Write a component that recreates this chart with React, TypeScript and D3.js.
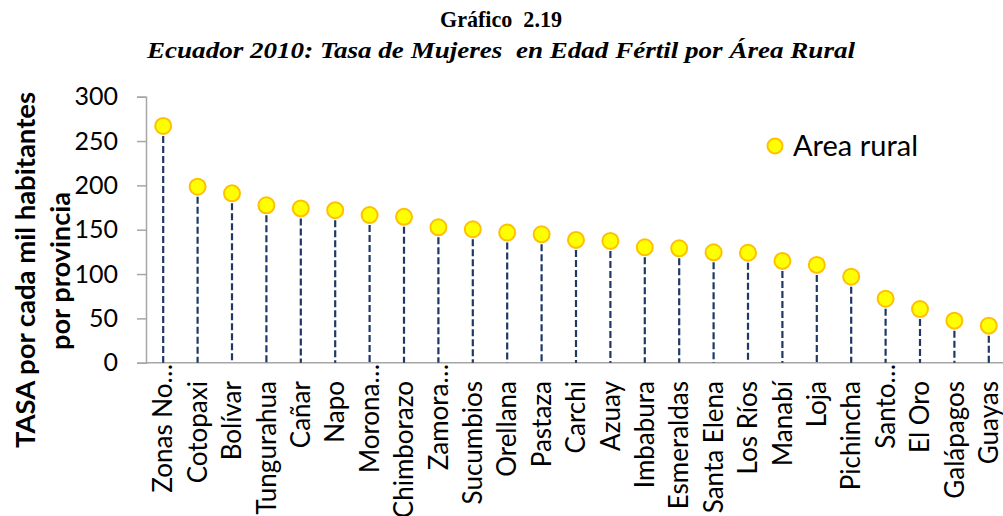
import * as d3 from "d3";
import { useRef, useEffect } from "react";

const provincias = [
  "Zonas No…", "Cotopaxi", "Bolívar", "Tungurahua", "Cañar", "Napo", "Morona…",
  "Chimborazo", "Zamora…", "Sucumbios", "Orellana", "Pastaza", "Carchi", "Azuay",
  "Imbabura", "Esmeraldas", "Santa Elena", "Los Ríos", "Manabí", "Loja",
  "Pichincha", "Santo…", "El Oro", "Galápagos", "Guayas",
];
const tasaRural = [
  267, 198.5, 191, 177.5, 174, 172, 166.5, 164.5, 152.7, 150.5, 146.8, 144.8,
  138.5, 137.3, 130.2, 129, 124.5, 124, 114.8, 110.3, 97, 72.2, 60.5, 47.4, 41.8,
];
const yTicks = [0, 50, 100, 150, 200, 250, 300];

function App() {
  const svgRef = useRef(null);

  useEffect(() => {
    const WIDTH = 1003;
    const HEIGHT = 516;
    const LABEL_FONT = "Lato, 'Open Sans', sans-serif";
    const SERIF = "'Liberation Serif', 'Times New Roman', Tinos, 'Nimbus Roman', FreeSerif, serif";

    const svg = d3.select(svgRef.current);
    svg.selectAll("*").remove();
    svg.attr("width", WIDTH).attr("height", HEIGHT);

    const x = d3.scaleBand().domain(provincias).range([146, 146 + 34.4 * provincias.length]).padding(0);
    const y = d3.scaleLinear().domain([0, 300]).range([362.7, 96.7]);

    // titulo
    svg.append("text")
      .attr("x", 501).attr("y", 27)
      .attr("text-anchor", "middle")
      .attr("font-family", SERIF)
      .attr("font-weight", "bold")
      .attr("font-size", 24)
      .style("white-space", "pre")
      .attr("textLength", 122).attr("lengthAdjust", "spacingAndGlyphs")
      .text("Gráfico  2.19");

    svg.append("text")
      .attr("x", 501).attr("y", 58)
      .attr("text-anchor", "middle")
      .attr("font-family", SERIF)
      .attr("font-weight", "bold")
      .attr("font-style", "italic")
      .attr("font-size", 24)
      .style("white-space", "pre")
      .attr("textLength", 708).attr("lengthAdjust", "spacingAndGlyphs")
      .text("Ecuador 2010: Tasa de Mujeres  en Edad Fértil por Área Rural");

    // eje y
    const yAxis = svg.append("g").attr("transform", "translate(146,0)")
      .call(d3.axisLeft(y).tickValues(yTicks).tickSize(9).tickPadding(19));
    yAxis.select(".domain").attr("stroke", "#a6a6a6").attr("stroke-width", 1.5);
    yAxis.selectAll(".tick line").attr("stroke", "#a6a6a6").attr("stroke-width", 1.5);
    yAxis.selectAll(".tick text")
      .attr("font-family", LABEL_FONT)
      .attr("font-size", 25)
      .attr("fill", "#000");

    // titulo eje y
    const yTitle = svg.append("g")
      .attr("font-family", LABEL_FONT)
      .attr("font-weight", "bold")
      .attr("font-size", 26)
      .attr("text-anchor", "middle");
    yTitle.append("text")
      .attr("transform", "translate(35,270) rotate(-90)")
      .attr("textLength", 356).attr("lengthAdjust", "spacingAndGlyphs")
      .text("TASA por cada mil habitantes");
    yTitle.append("text")
      .attr("transform", "translate(70,271) rotate(-90)")
      .attr("textLength", 158).attr("lengthAdjust", "spacingAndGlyphs")
      .text("por provincia");

    // eje x
    svg.append("line")
      .attr("x1", 146).attr("x2", WIDTH)
      .attr("y1", y(0)).attr("y2", y(0))
      .attr("stroke", "#a6a6a6").attr("stroke-width", 1.5);

    const data = provincias.map((p, i) => ({ provincia: p, tasa: tasaRural[i] }));

    svg.append("g").selectAll("line")
      .data(data)
      .join("line")
      .attr("x1", d => x(d.provincia) + x.bandwidth() / 2)
      .attr("x2", d => x(d.provincia) + x.bandwidth() / 2)
      .attr("y1", d => y(d.tasa))
      .attr("y2", y(0))
      .attr("stroke", "#1f3864")
      .attr("stroke-width", 2.2)
      .attr("stroke-dasharray", "7,3");

    svg.append("g").selectAll("circle")
      .data(data)
      .join("circle")
      .attr("cx", d => x(d.provincia) + x.bandwidth() / 2)
      .attr("cy", d => y(d.tasa))
      .attr("r", 8)
      .attr("fill", "#ffff00")
      .attr("stroke", "#ffc000")
      .attr("stroke-width", 2);

    // etiquetas x
    svg.append("g").selectAll("text")
      .data(data)
      .join("text")
      .attr("transform", d => {
        const cx = x(d.provincia) + x.bandwidth() / 2;
        const ty = d.provincia.endsWith("…") ? 364 : 381;
        return `translate(${cx},${ty}) rotate(-90)`;
      })
      .attr("dy", "0.35em")
      .attr("text-anchor", "end")
      .attr("font-family", LABEL_FONT)
      .attr("font-size", 26)
      .attr("fill", "#000")
      .text(d => d.provincia);

    // leyenda
    svg.append("circle")
      .attr("cx", 775).attr("cy", 146)
      .attr("r", 7.5)
      .attr("fill", "#ffff00")
      .attr("stroke", "#ffc000")
      .attr("stroke-width", 2);
    svg.append("text")
      .attr("x", 793).attr("y", 156)
      .attr("font-family", LABEL_FONT)
      .attr("font-size", 29)
      .attr("fill", "#000")
      .text("Area rural");
  }, []);

  return (
    <div style={{ position: "absolute", left: 0, top: 0 }}>
      <svg ref={svgRef} style={{ display: "block" }} />
    </div>
  );
}

export default App;
